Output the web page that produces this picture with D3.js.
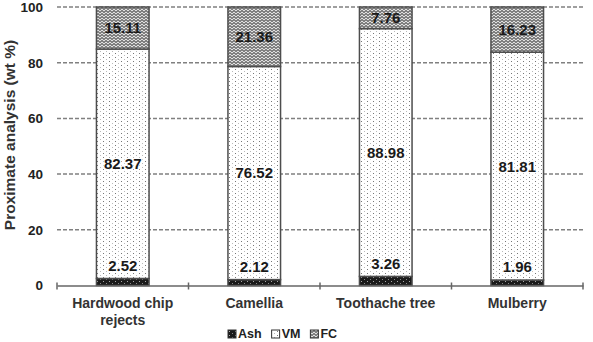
<!DOCTYPE html>
<html>
<head>
<meta charset="utf-8">
<script src="https://cdn.jsdelivr.net/npm/d3@7"></script>
<style>
	body { margin: 0; background: #fff; }
	text { font-family: "Liberation Sans", Arial, sans-serif; }
</style>
</head>
<body>
<div id="chart"></div>
<script>
(function() {
	var w = 593, h = 342,
		margins = {top: 7, bottom: 285.5, left: 57, right: 583},
		svg = d3.select("#chart").append("svg")
			.attr("width", w)
			.attr("height", h)

	// data
	var categories = ["Hardwood chip rejects", "Camellia", "Toothache tree", "Mulberry"]
	var ash = [2.52, 2.12, 3.26, 1.96]
	var vm = [82.37, 76.52, 88.98, 81.81]
	var fc = [15.11, 21.36, 7.76, 16.23]
	var yTicks = [0, 20, 40, 60, 80, 100]
	var seriesNames = ["Ash", "VM", "FC"]

	var rows = categories.map((c, i) => ({category: c, Ash: ash[i], VM: vm[i], FC: fc[i]}))
	var stacked = d3.stack().keys(seriesNames)(rows)

	// patterns
	var defs = svg.append("defs")

	var pAsh = defs.append("pattern").attr("id", "pAsh")
		.attr("patternUnits", "userSpaceOnUse").attr("width", 6).attr("height", 4)
	pAsh.append("rect").attr("width", 6).attr("height", 4).attr("fill", "#1a1a1a")
	pAsh.append("rect").attr("x", 1).attr("y", 1).attr("width", 1).attr("height", 1).attr("fill", "#aaa")
	pAsh.append("rect").attr("x", 4).attr("y", 3).attr("width", 1).attr("height", 1).attr("fill", "#888")

	var pVM = defs.append("pattern").attr("id", "pVM")
		.attr("patternUnits", "userSpaceOnUse").attr("width", 6).attr("height", 4)
	pVM.append("rect").attr("width", 6).attr("height", 4).attr("fill", "#fff")
	pVM.append("rect").attr("x", 1).attr("y", 1).attr("width", 1).attr("height", 1).attr("fill", "#777")
	pVM.append("rect").attr("x", 4).attr("y", 3).attr("width", 1).attr("height", 1).attr("fill", "#bbb")

	var pFC = defs.append("pattern").attr("id", "pFC")
		.attr("patternUnits", "userSpaceOnUse").attr("width", 8).attr("height", 6)
	pFC.append("rect").attr("width", 8).attr("height", 6).attr("fill", "#808080")
	pFC.append("path").attr("d", "M0,2 L2,0 L4,2 L6,0 L8,2 M0,5 L2,3 L4,5 L6,3 L8,5")
		.attr("fill", "none").attr("stroke", "#e0e0e0").attr("stroke-width", 1)

	var fills = {Ash: "url(#pAsh)", VM: "url(#pVM)", FC: "url(#pFC)"}

	// scales
	var x = d3.scaleBand()
		.domain(categories)
		.range([margins.left, margins.right])
		.paddingInner(0)
		.paddingOuter(0)

	var y = d3.scaleLinear()
		.domain([0, 100])
		.range([margins.bottom, margins.top])

	var barW = x.bandwidth() * 0.4

	// dashed gridlines
	svg.append("g").selectAll("line")
		.data(yTicks.filter(t => t > 0))
		.enter().append("line")
		.attr("x1", margins.left).attr("x2", margins.right)
		.attr("y1", d => y(d)).attr("y2", d => y(d))
		.attr("stroke", "#808080")
		.attr("stroke-width", 1.5)
		.attr("stroke-dasharray", "4,2")

	// y tick labels
	var yAxis = d3.axisLeft(y).tickValues(yTicks).tickSize(0).tickPadding(0)
	var gy = svg.append("g")
		.attr("transform", "translate(43, 0)")
		.call(yAxis)
	gy.select(".domain").remove()
	gy.selectAll("text")
		.attr("font-size", 13.5)
		.attr("font-weight", "bold")
		.attr("fill", "#222")
		.attr("font-family", "Liberation Sans, Arial, sans-serif")

	// bars
	var layer = svg.append("g").selectAll("g")
		.data(stacked)
		.enter().append("g")
		.attr("fill", d => fills[d.key])

	layer.selectAll("rect")
		.data(d => d)
		.enter().append("rect")
		.attr("x", d => x(d.data.category) + (x.bandwidth() - barW) / 2)
		.attr("y", d => y(d[1]))
		.attr("width", barW)
		.attr("height", d => y(d[0]) - y(d[1]))
		.attr("stroke", "#4d4d4d")
		.attr("stroke-width", 1.5)

	// x axis
	var xAxis = d3.axisBottom(x).tickSize(0).tickPadding(9)
	var gx = svg.append("g")
		.attr("transform", "translate(0," + margins.bottom + ")")
		.call(xAxis)
	gx.select(".domain").attr("stroke", "#666").attr("stroke-width", 1.5)
	gx.selectAll(".tick text").remove()

	// tick marks at band boundaries
	var bounds = categories.map(c => x(c)).concat([x(categories[categories.length - 1]) + x.bandwidth()])
	gx.selectAll(".bound")
		.data(bounds)
		.enter().append("line")
		.attr("class", "bound")
		.attr("x1", d => d).attr("x2", d => d)
		.attr("y1", -3).attr("y2", 4)
		.attr("stroke", "#666").attr("stroke-width", 1.5)

	// category labels, wrapped like the original
	var wrapLines = {"Hardwood chip rejects": ["Hardwood chip", "rejects"]}
	svg.append("g").selectAll("text")
		.data(categories)
		.enter().append("text")
		.attr("x", d => x(d) + x.bandwidth() / 2)
		.attr("y", margins.bottom + 22)
		.attr("text-anchor", "middle")
		.attr("font-size", 14)
		.attr("font-weight", "bold")
		.attr("fill", "#333")
		.each(function(d) {
			var lines = wrapLines[d] || [d]
			var t = d3.select(this)
			lines.forEach((l, i) => {
				t.append("tspan")
					.attr("x", x(d) + x.bandwidth() / 2)
					.attr("dy", i === 0 ? 0 : 17)
					.text(l)
			})
		})

	// value labels
	var labels = []
	stacked.forEach(s => {
		s.forEach(d => {
			var v = d[1] - d[0]
			var cy = s.key === "Ash" ? y(d[1]) - 13 : y((d[0] + d[1]) / 2)
			labels.push({v: v, cx: x(d.data.category) + x.bandwidth() / 2, cy: cy, key: s.key})
		})
	})
	svg.append("g").selectAll("text")
		.data(labels)
		.enter().append("text")
		.attr("x", d => d.cx)
		.attr("y", d => d.cy)
		.attr("dy", "0.36em")
		.attr("text-anchor", "middle")
		.attr("font-size", 15)
		.attr("font-weight", "bold")
		.attr("fill", "#1a1a1a")
		.attr("stroke", d => d.key === "FC" ? "none" : "rgba(255,255,255,0.8)")
		.attr("stroke-width", 3)
		.attr("paint-order", "stroke")
		.text(d => d.v.toFixed(2))

	// y axis title
	svg.append("text")
		.attr("transform", "rotate(-90)")
		.attr("x", -135)
		.attr("y", 15)
		.attr("text-anchor", "middle")
		.attr("font-size", 15.5)
		.attr("font-weight", "bold")
		.attr("fill", "#333")
		.text("Proximate analysis (wt %)")

	// legend along the bottom edge
	var legend = svg.append("g").attr("transform", "translate(228, 338)")
	var lx = 0
	seriesNames.forEach(name => {
		legend.append("rect")
			.attr("x", lx).attr("y", -8)
			.attr("width", 8).attr("height", 8)
			.attr("fill", fills[name])
			.attr("stroke", "#333").attr("stroke-width", 1)
		var t = legend.append("text")
			.attr("x", lx + 10).attr("y", 0)
			.attr("font-size", 12.5)
			.attr("font-weight", "bold")
			.attr("fill", "#222")
			.text(name)
		lx += 10 + t.node().getComputedTextLength() + 10
	})
})()
</script>
</body>
</html>
